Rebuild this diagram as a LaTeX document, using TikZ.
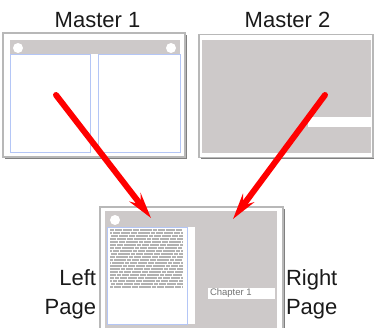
\documentclass[tikz,border=0pt]{standalone}
\usepackage{fontspec}
\setmainfont{Liberation Sans}
\usetikzlibrary{arrows.meta,shadows}

\definecolor{sheetgray}{HTML}{CDC9C9}
\definecolor{marginblue}{HTML}{B4C6F6}
\definecolor{framegray}{HTML}{B8B8B8}
\definecolor{captiontext}{HTML}{1A1A1A}

\begin{document}
\begin{tikzpicture}[x=1pt,y=-1pt,
    every node/.style={inner sep=0pt,outer sep=0pt},
    sheet/.style={rectangle,draw=framegray,line width=1.2pt,fill=white,
      drop shadow={shadow xshift=1.6pt,shadow yshift=-1.6pt,fill=black!50,opacity=1}},
    bar/.style={rectangle,fill=sheetgray},
    margin/.style={rectangle,draw=marginblue,line width=0.9pt,fill=white},
    hole/.style={circle,fill=white,minimum size=10pt},
    caption/.style={font=\fontsize{22}{29}\selectfont,text=captiontext},
    pointer/.style={draw=red,line width=6pt,line cap=round,
      -{Stealth[length=26pt,width=14pt,inset=9pt]}},
    textline/.style={draw=black!30,line width=1.4pt,
      dash pattern=on 9pt off 1pt on 6pt off 1pt on 12pt off 1pt on 4pt off 1pt on 7pt off 1pt}]

  \useasboundingbox (0,0) rectangle (374,328);

  % master 1
  \node[caption,anchor=base] (t1) at (97.5,28) {Master 1};
  \node[sheet,minimum width=182pt,minimum height=124pt] (m1) at (94,95) {};
  \node[bar,minimum width=170pt,minimum height=14pt] (m1bar) at (95,47.5) {};
  \node[margin,minimum width=80pt,minimum height=98pt] (m1left) at (50,103.5) {};
  \node[margin,minimum width=82pt,minimum height=98pt] (m1right) at (139,103.5) {};
  \node[hole] (m1hole1) at (18,48) {};
  \node[hole] (m1hole2) at (171,48) {};

  % master 2
  \node[caption,anchor=base] (t2) at (287.5,28) {Master 2};
  \node[sheet,minimum width=174pt,minimum height=123pt] (m2) at (286,96) {};
  \node[bar,minimum width=169pt,minimum height=113pt] (m2bar) at (286.5,96.5) {};
  \node[fill=white,minimum width=63pt,minimum height=10pt] (m2strip) at (339.5,122) {};

  % the page made from both
  \node[sheet,minimum width=183pt,minimum height=125pt] (pg) at (191.5,269.5) {};
  \node[bar,minimum width=172pt,minimum height=117pt] (pgbar) at (191,269.5) {};
  \node[fill=white,minimum width=88pt,minimum height=97pt] (pgwhite) at (151,275.5) {};
  \node[margin,minimum width=80pt,minimum height=97pt] (pgleft) at (147,275.5) {};
  \node[hole] (pghole) at (115,220) {};
  \foreach \y [evaluate=\y as \ph using {mod(\y*13,37)}] in {230,233,...,287}
    \draw[textline,dash phase=\ph pt] (110,\y) -- (183,\y);
  \node[fill=white,minimum width=67pt,minimum height=11pt] (chap) at (241.5,293.5) {};
  \node[anchor=west,font=\fontsize{9.5}{10}\selectfont,text=black!55] (chaptext) at (210,293.5) {Chapter 1};

  \node[caption,align=right,anchor=north east] (lp) at (96,270) {Left\\Page};
  \node[caption,align=left,anchor=north west] (rp) at (286,270) {Right\\Page};

  % arrows
  \coordinate (from1) at (56,95);
  \coordinate (to1) at (151,218);
  \coordinate (from2) at (325,95);
  \coordinate (to2) at (233,219);
  \draw[pointer] (from1) -- (to1);
  \draw[pointer] (from2) -- (to2);

\end{tikzpicture}
\end{document}
